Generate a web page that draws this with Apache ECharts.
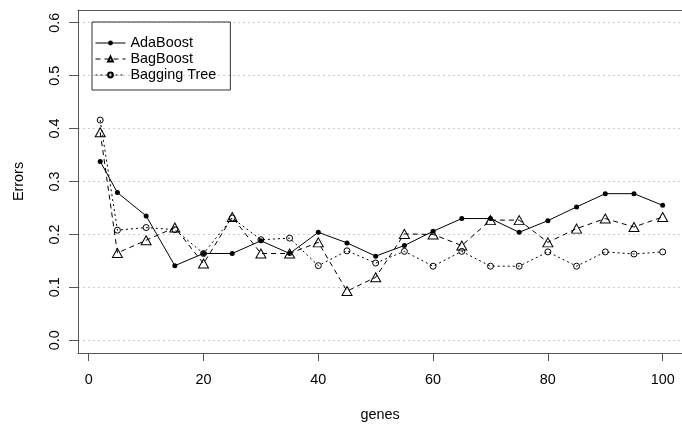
<html>
<head>
<meta charset="utf-8">
<title>ECharts</title>
<style>html,body{margin:0;padding:0;background:#fff;}</style>
</head>
<body>
<div id="main" style="width: 682px;height:427px;"></div>
<script src="https://cdn.jsdelivr.net/npm/echarts@6/dist/echarts.min.js"></script>
<script>
var genes = [2, 5, 10, 15, 20, 25, 30, 35, 40, 45, 50, 55, 60, 65, 70, 75, 80, 85, 90, 95, 100];
var adaBoost = [0.338, 0.279, 0.235, 0.141, 0.164, 0.164, 0.188, 0.164, 0.204, 0.184, 0.159,
                0.179, 0.206, 0.230, 0.230, 0.204, 0.226, 0.252, 0.277, 0.277, 0.255];
var bagBoost = [0.393, 0.165, 0.189, 0.213, 0.145, 0.233, 0.164, 0.164, 0.185, 0.093, 0.119,
                0.201, 0.200, 0.179, 0.227, 0.227, 0.185, 0.211, 0.230, 0.214, 0.233];
var baggingTree = [0.416, 0.208, 0.213, 0.209, 0.164, 0.231, 0.190, 0.193, 0.141, 0.169, 0.146,
                   0.168, 0.140, 0.168, 0.140, 0.140, 0.167, 0.140, 0.167, 0.163, 0.167];
var xTicks = [0, 20, 40, 60, 80, 100];
var yTicks = [0, 0.1, 0.2, 0.3, 0.4, 0.5, 0.6];

var font = 'Liberation Sans';
var fs = 14.4;
var boxColor = '#555';

function pairs(ys) {
	return genes.map(function (g, i) { return [g, ys[i]]; });
}

var chart = echarts.init(document.getElementById('main'));

var option = {
	animation: false,
	backgroundColor: '#fff',
	// the R box runs past the right edge, so only left/bottom/top are drawn
	grid: {left: 78, top: 10, right: 0, bottom: 73},
	legend: {
		orient: 'vertical',
		left: 92, top: 22,
		padding: [13, 14, 7, 3],
		itemGap: 0,
		itemWidth: 30,
		itemHeight: 6,
		borderColor: '#333',
		borderWidth: 1,
		lineStyle: {width: 1},
		textStyle: {fontFamily: font, fontSize: fs, color: '#000', lineHeight: 16},
		data: ['AdaBoost', 'BagBoost', 'Bagging Tree']
	},
	xAxis: [{
		type: 'value',
		min: -1.87, max: 103.37,
		name: 'genes',
		nameLocation: 'middle',
		nameGap: 55,
		nameTextStyle: {fontFamily: font, fontSize: fs, color: '#000'},
		axisLine: {show: true, onZero: false, lineStyle: {color: boxColor}},
		axisTick: {show: true, length: 8, customValues: xTicks, lineStyle: {color: boxColor}},
		axisLabel: {customValues: xTicks, margin: 20, fontFamily: font, fontSize: fs, color: '#000'},
		splitLine: {show: false}
	}, {
		type: 'value',
		position: 'top',
		min: -1.87, max: 103.37,
		axisLine: {show: true, onZero: false, lineStyle: {color: boxColor}},
		axisTick: {show: false},
		axisLabel: {show: false},
		splitLine: {show: false}
	}],
	yAxis: {
		type: 'value',
		min: -0.024, max: 0.624,
		name: 'Errors',
		nameLocation: 'middle',
		nameGap: 52,
		nameTextStyle: {fontFamily: font, fontSize: fs, color: '#000'},
		axisLine: {show: true, onZero: false, lineStyle: {color: boxColor}},
		axisTick: {show: true, length: 9, customValues: yTicks, lineStyle: {color: boxColor}},
		axisLabel: {
			customValues: yTicks, margin: 16, rotate: 90,
			fontFamily: font, fontSize: fs, color: '#000',
			formatter: function (v) { return v.toFixed(1); }
		},
		splitLine: {show: true, lineStyle: {color: '#ccc', type: [2, 3]}}
	},
	series: [
		{
			name: 'AdaBoost', type: 'line', data: pairs(adaBoost),
			symbol: 'circle', symbolSize: 5,
			itemStyle: {color: '#000'},
			lineStyle: {color: '#000', width: 1, type: 'solid'}
		},
		{
			name: 'BagBoost', type: 'line', data: pairs(bagBoost),
			symbol: 'triangle', symbolSize: [10, 9],
			itemStyle: {color: 'rgba(0,0,0,0)', borderColor: '#000', borderWidth: 1},
			lineStyle: {color: '#000', width: 1, type: [5, 4]}
		},
		{
			name: 'Bagging Tree', type: 'line', data: pairs(baggingTree),
			symbol: 'circle', symbolSize: 6,
			itemStyle: {color: 'rgba(0,0,0,0)', borderColor: '#000', borderWidth: 1},
			lineStyle: {color: '#000', width: 1, type: [2, 3]}
		}
	]
};

chart.setOption(option);
</script>
</body>
</html>
